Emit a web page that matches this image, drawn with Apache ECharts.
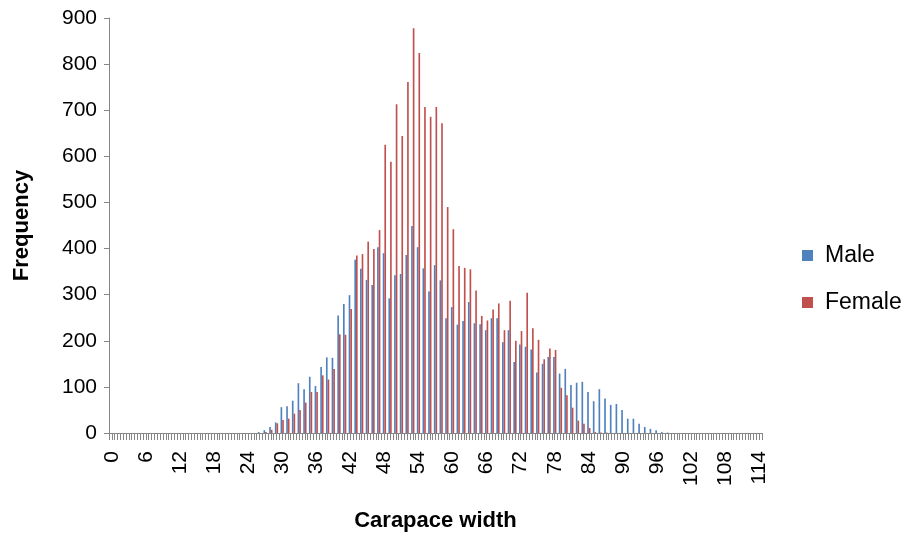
<!DOCTYPE html>
<html>
<head>
<meta charset="utf-8">
<script src="https://cdn.jsdelivr.net/npm/echarts@6/dist/echarts.min.js"></script>
<style>
html,body{margin:0;padding:0;background:#fff;}
#chart{width:907px;height:533px;}
</style>
</head>
<body>
<div id="chart"></div>
<script>
// Categories: carapace width 0..114
var categories = [];
for (var c = 0; c <= 114; c++) categories.push(String(c));

// Male frequencies (index = carapace width)
var maleValues = [
  0,0,0,0,0,0,0,0,0,0,
  0,0,0,0,0,0,0,0,0,0,
  0,0,0,0,0,0,2,6,13,23,
  56,58,70,108,95,122,102,143,164,163,
  255,280,299,376,356,332,321,403,390,292,
  342,345,386,449,403,357,307,364,331,249,
  273,235,243,284,238,236,223,249,249,197,
  223,154,192,187,181,131,150,165,165,129,
  139,104,109,111,89,69,95,75,61,63,
  50,31,31,20,13,9,6,2,1,0,
  0,0,0,0,0,0,0,0,0,0,
  0,0,0,0,0
];

// Female frequencies
var femaleValues = [
  0,0,0,0,0,0,0,0,0,0,
  0,0,0,0,0,0,0,0,0,0,
  0,0,0,0,0,0,0,2,7,21,
  28,31,42,50,66,89,89,125,116,139,
  214,213,269,385,388,415,399,440,625,588,
  713,644,761,878,824,707,686,707,672,490,
  442,362,358,355,309,254,244,268,281,223,
  287,200,221,304,227,202,160,183,180,98,
  82,55,27,20,11,2,1,1,0,0,
  0,0,0,0,0,0,0,0,0,0,
  0,0,0,0,0,0,0,0,0,0,
  0,0,0,0,0
];

var yTicks = { min: 0, max: 900, interval: 100 };

// half-category tick helper axis
var halfTicks = [];
for (var h = 0; h < categories.length * 2; h++) halfTicks.push('');

var FONT = 'Liberation Sans';
var chart = echarts.init(document.getElementById('chart'), null, {renderer: 'canvas'});
chart.setOption({
  animation: false,
  backgroundColor: '#ffffff',
  textStyle: { fontFamily: FONT },
  grid: { left: 109, right: 145, top: 18, bottom: 100, containLabel: false, outerBoundsMode: 'none' },
  legend: {
    orient: 'vertical',
    left: 797,
    top: 239,
    itemWidth: 11,
    itemHeight: 11,
    itemGap: 24,
    icon: 'rect',
    textStyle: { fontFamily: FONT, fontSize: 23, color: '#000', padding: [0, 0, 0, 7] },
    data: ['Male', 'Female']
  },
  xAxis: [{
    type: 'category',
    data: categories,
    boundaryGap: true,
    name: 'Carapace width',
    nameLocation: 'middle',
    nameGap: 77,
    nameTextStyle: { fontFamily: FONT, fontSize: 22, fontWeight: 'bold', color: '#000' },
    axisLine: { show: true, lineStyle: { color: '#868686', width: 1 } },
    axisTick: { show: false },
    axisLabel: { interval: 5, rotate: 90, fontSize: 21, color: '#000', fontFamily: FONT, margin: 18 },
    splitLine: { show: false }
  }, {
    type: 'category',
    data: halfTicks,
    position: 'bottom',
    boundaryGap: true,
    axisLine: { show: false },
    axisTick: { show: true, interval: 0, length: 7, lineStyle: { color: '#868686', width: 1 } },
    axisLabel: { show: false },
    splitLine: { show: false }
  }],
  yAxis: {
    type: 'value',
    min: yTicks.min,
    max: yTicks.max,
    interval: yTicks.interval,
    name: 'Frequency',
    nameLocation: 'middle',
    nameGap: 76,
    nameRotate: 90,
    nameTextStyle: { fontFamily: FONT, fontSize: 22, fontWeight: 'bold', color: '#000' },
    axisLine: { show: true, lineStyle: { color: '#868686', width: 1 } },
    axisTick: { show: true, length: 5, lineStyle: { color: '#868686' } },
    axisLabel: { fontSize: 21, color: '#000', fontFamily: FONT, margin: 12 },
    splitLine: { show: false }
  },
  series: [{
    name: 'Male',
    type: 'bar',
    xAxisIndex: 0,
    data: maleValues,
    barWidth: '29%',
    barGap: '0%',
    itemStyle: { color: '#4F81BD' }
  }, {
    name: 'Female',
    type: 'bar',
    xAxisIndex: 0,
    data: femaleValues,
    barWidth: '29%',
    barGap: '0%',
    itemStyle: { color: '#C0504D' }
  }]
});
</script>
</body>
</html>
